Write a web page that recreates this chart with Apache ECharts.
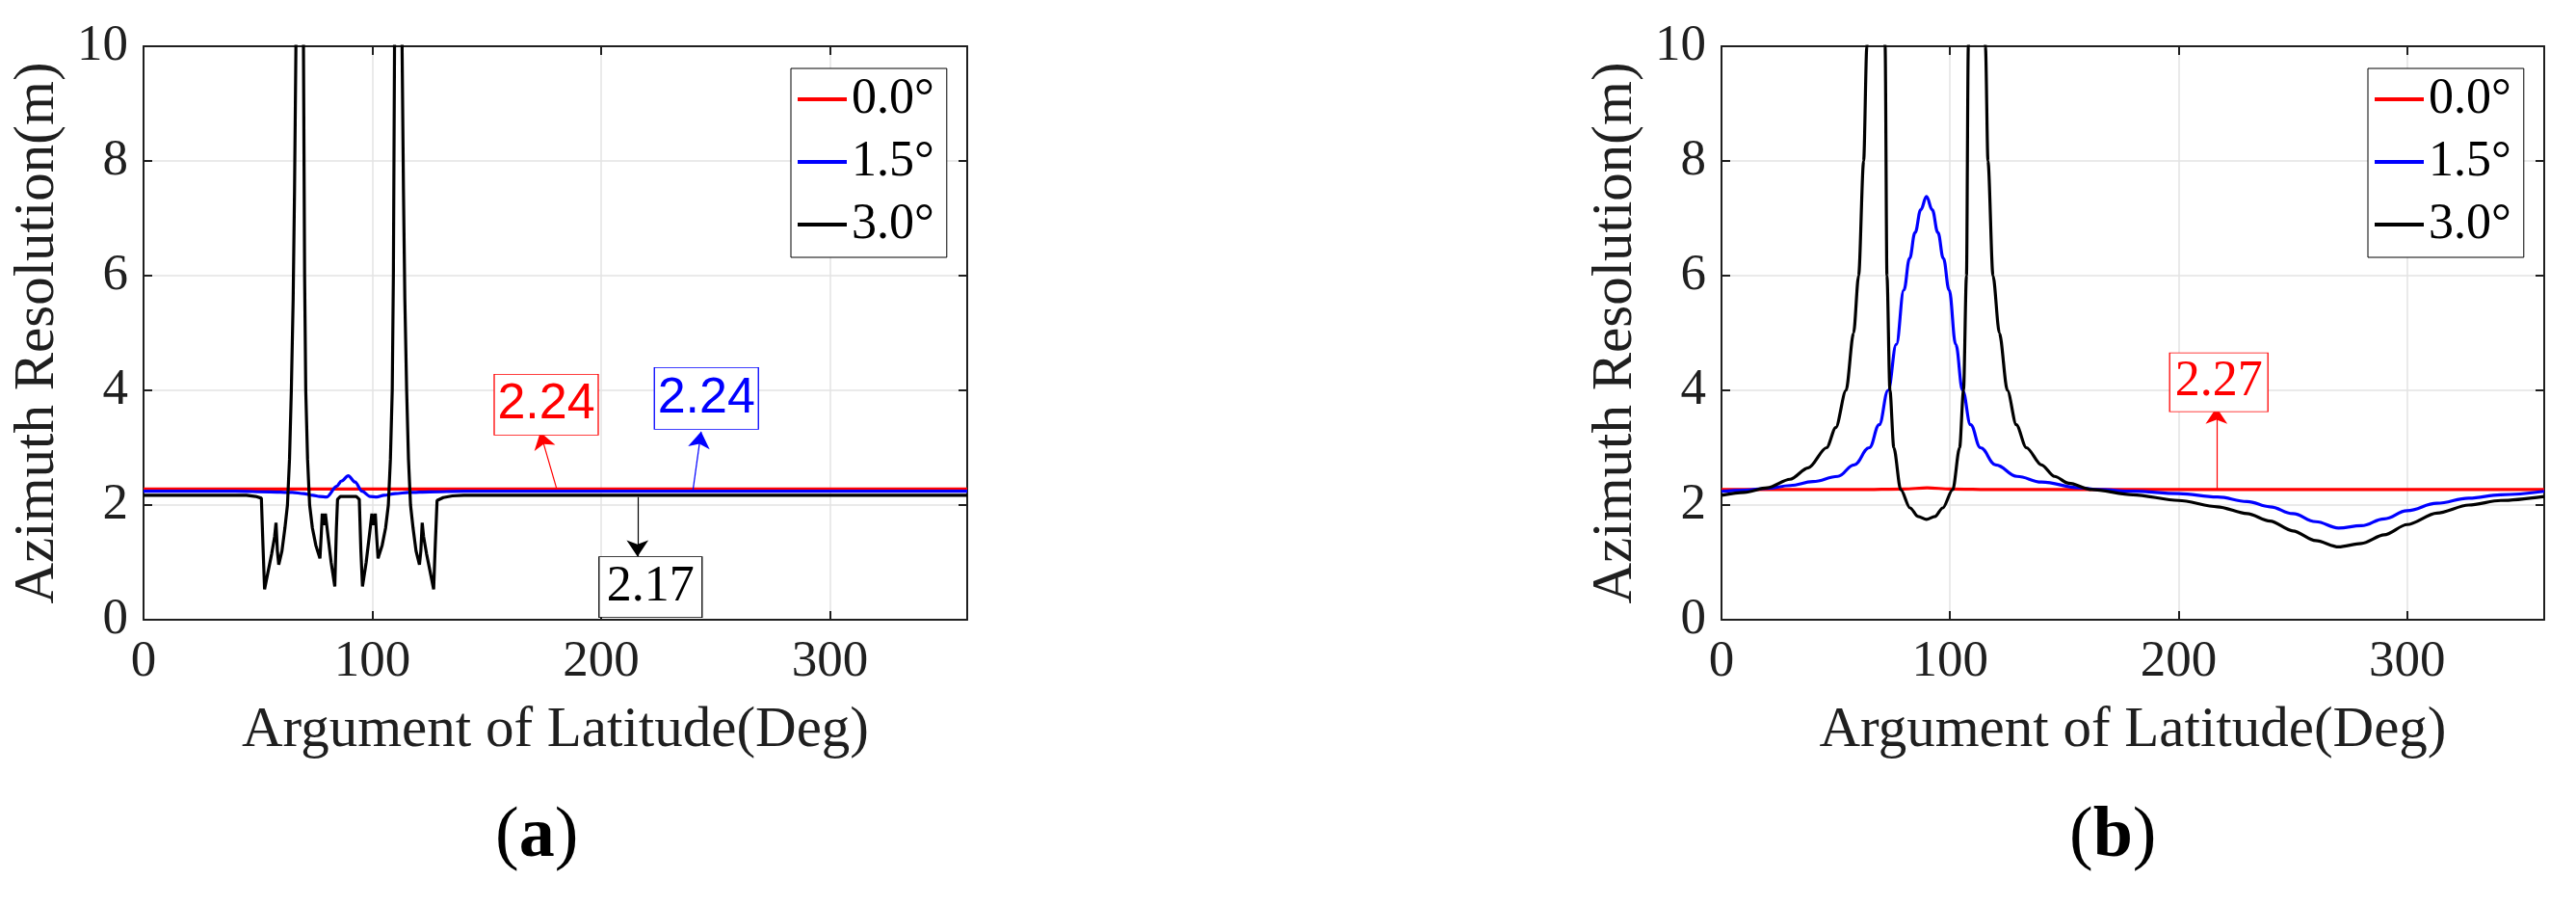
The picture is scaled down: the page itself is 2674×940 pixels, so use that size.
<!DOCTYPE html>
<html>
<head>
<meta charset="utf-8">
<title>Azimuth Resolution</title>
<script src="https://cdn.jsdelivr.net/npm/echarts@6/dist/echarts.min.js"></script>
<style>
  html, body { margin: 0; padding: 0; background: #fff; }
  #main { width: 2674px; height: 940px; }
</style>
</head>
<body>
<div id="main"></div>
<script>
  // ---- data ----
  var names = ['0.0°', '1.5°', '3.0°'];
  var xTicks = [0, 100, 200, 300];

  // (a)
  var aRedX = [0, 90, 180, 270, 360];
  var aRedY = [2.28, 2.28, 2.28, 2.28, 2.28];
  var aBlueX = [0, 40, 55, 65, 70, 74, 77, 80, 84.5, 86.5, 89.5, 92.5, 95.5, 99, 102, 105, 110, 116, 125, 140, 360];
  var aBlueY = [2.24, 2.24, 2.23, 2.22, 2.2, 2.17, 2.15, 2.14, 2.33, 2.42, 2.51, 2.4, 2.24, 2.15, 2.14, 2.17, 2.2, 2.22, 2.23, 2.24, 2.24];
  var aBlackX = [0, 45, 49, 51.5, 52.2, 52.9, 54.5, 56, 57.3, 57.9, 58.5, 59.1, 60.5, 61.8, 62.9, 63.8, 64.6, 65.4, 66, 66.6, 68.2, 69.9, 70.4, 70.9, 71.7, 72.6, 73.8, 75.3, 77.1, 77.7, 78.1, 78.8, 79.5, 80.5, 82, 83.6, 84.3, 84.8, 86, 93, 94.3, 95, 95.7, 97.3, 98.8, 99.8, 100.5, 101.3, 101.8, 102.5, 104.3, 105.8, 107, 107.9, 108.7, 109.2, 109.7, 111.4, 113, 113.6, 114.2, 115, 115.8, 116.7, 117.8, 119.1, 120.6, 121.2, 121.8, 122.4, 123.7, 125.2, 126.8, 127.5, 128.3, 131, 135, 140, 360];
  var aBlackY = [2.17, 2.17, 2.15, 2.12, 1.3, 0.53, 0.85, 1.15, 1.45, 1.69, 1.2, 0.96, 1.2, 1.6, 2.0, 2.8, 4.0, 5.6, 7.5, 10, 40, 10, 6, 4.0, 2.8, 2.0, 1.6, 1.3, 1.07, 1.5, 1.85, 1.65, 1.85, 1.5, 1.0, 0.58, 1.6, 2.1, 2.15, 2.15, 2.1, 1.2, 0.58, 1.0, 1.5, 1.85, 1.65, 1.85, 1.5, 1.07, 1.3, 1.6, 2.0, 2.8, 4.0, 6, 10, 40, 10, 7.5, 5.6, 4.0, 2.8, 2.0, 1.6, 1.2, 0.96, 1.2, 1.69, 1.45, 1.15, 0.85, 0.53, 1.3, 2.08, 2.13, 2.16, 2.17, 2.17];

  // (b)
  var bRedX = [0, 60, 80, 90, 100, 120, 360];
  var bRedY = [2.27, 2.27, 2.28, 2.3, 2.28, 2.27, 2.27];
  var bBlueX = [0, 10, 20, 30, 40, 50.9, 58, 64.7, 69, 72.9, 76.5, 79.8, 82.3, 84.7, 87.2, 89.7, 92.2, 94.7, 97.1, 99.6, 102.5, 105.5, 109, 113.3, 120, 129.3, 140, 156.7, 165, 180, 200, 217, 230, 240, 250, 260, 270, 280, 290, 300, 313, 327, 341, 360];
  var bBlueY = [2.24, 2.26, 2.29, 2.34, 2.41, 2.5, 2.7, 3.0, 3.4, 4.0, 4.8, 5.75, 6.3, 6.75, 7.15, 7.38, 7.15, 6.75, 6.3, 5.75, 4.8, 4.0, 3.4, 3.0, 2.7, 2.5, 2.4, 2.3, 2.27, 2.24, 2.2, 2.14, 2.06, 1.97, 1.85, 1.71, 1.6, 1.64, 1.76, 1.9, 2.03, 2.12, 2.18, 2.24];
  var bBlackX = [0, 10, 20, 30, 38, 46, 50, 54.5, 57.8, 60, 62.2, 63.6, 65.5, 67.5, 69.6, 71.6, 72.4, 73.7, 75.4, 78.4, 82.5, 86, 89.7, 93.4, 96.8, 101.2, 104.2, 105.9, 107.2, 108, 110, 112, 114, 115.5, 116.6, 118.8, 121.6, 125.1, 129, 133.4, 140, 145.7, 152, 162, 180, 200, 217, 230, 240, 250, 260, 270, 280, 290, 300, 313, 327, 341, 360];
  var bBlackY = [2.17, 2.22, 2.3, 2.45, 2.65, 3.0, 3.35, 4.0, 5.0, 6.0, 8.0, 10, 14, 40, 14, 10, 6.0, 4.0, 3.0, 2.27, 1.95, 1.8, 1.75, 1.8, 1.95, 2.27, 3.0, 4.0, 6.0, 10, 14, 40, 14, 10, 8, 6, 5, 4, 3.4, 3.0, 2.7, 2.5, 2.38, 2.27, 2.18, 2.08, 1.97, 1.85, 1.72, 1.55, 1.38, 1.27, 1.33, 1.48, 1.66, 1.86, 2.0, 2.08, 2.15];

  // annotations: [label, box centre x, box centre y, arrow from x, from y, to x, to y]
  var aRedNote = ['2.24', 176, 3.75, 180.6, 2.28, 173.4, 3.27];
  var aBlueNote = ['2.24', 246, 3.86, 240, 2.22, 243.7, 3.28];
  var aBlackNote = ['2.17', 221.6, 0.57, 215.9, 2.14, 215.9, 1.1];
  var bRedNote = ['2.27', 217.6, 4.14, 216.6, 2.27, 216.6, 3.7];

  // ---- helpers ----
  var serif = 'Liberation Serif';
  var sans = 'Liberation Sans';
  var ink = '#1f1f1f';

  function zip(xs, ys) {
    return xs.map(function (x, i) { return [x, ys[i]]; });
  }

  function xAxes(g) {
    return [{
      gridIndex: g, type: 'value', min: 0, max: 360, interval: 100, position: 'bottom',
      name: 'Argument of Latitude(Deg)', nameLocation: 'middle', nameGap: 86,
      nameTextStyle: { fontFamily: serif, fontSize: 59, color: ink },
      axisLine: { show: true, onZero: false, lineStyle: { color: ink, width: 2 } },
      axisTick: { show: true, inside: true, length: 9, lineStyle: { color: ink, width: 2 } },
      axisLabel: {
        fontFamily: serif, fontSize: 53, color: ink, margin: 18, showMaxLabel: false,
        formatter: function (v) { return xTicks.indexOf(v) >= 0 ? String(v) : ''; }
      },
      splitLine: { show: true, lineStyle: { color: '#e3e3e3', width: 1.5 } }
    }, {
      gridIndex: g, type: 'value', min: 0, max: 360, interval: 100, position: 'top',
      axisLine: { show: true, onZero: false, lineStyle: { color: ink, width: 2 } },
      axisTick: { show: true, inside: true, length: 9, lineStyle: { color: ink, width: 2 } },
      axisLabel: { show: false },
      splitLine: { show: false }
    }];
  }

  function yAxes(g) {
    return [{
      gridIndex: g, type: 'value', min: 0, max: 10, interval: 2, position: 'left',
      name: 'Azimuth Resolution(m)', nameLocation: 'middle', nameGap: 80,
      nameTextStyle: { fontFamily: serif, fontSize: 59, color: ink },
      axisLine: { show: true, onZero: false, lineStyle: { color: ink, width: 2 } },
      axisTick: { show: true, inside: true, length: 9, lineStyle: { color: ink, width: 2 } },
      axisLabel: { fontFamily: serif, fontSize: 53, color: ink, margin: 16 },
      splitLine: { show: true, lineStyle: { color: '#e3e3e3', width: 1.5 } }
    }, {
      gridIndex: g, type: 'value', min: 0, max: 10, interval: 2, position: 'right',
      axisLine: { show: true, onZero: false, lineStyle: { color: ink, width: 2 } },
      axisTick: { show: true, inside: true, length: 9, lineStyle: { color: ink, width: 2 } },
      axisLabel: { show: false },
      splitLine: { show: false }
    }];
  }

  function note(n, color, font, w, h) {
    return {
      markPoint: {
        silent: true,
        symbol: 'rect',
        symbolSize: [w, h],
        itemStyle: { color: '#fff', borderColor: color, borderWidth: 1 },
        label: {
          show: true, position: 'inside', color: color, fontFamily: font, fontSize: 52,
          formatter: function (p) { return p.name; }
        },
        data: [{ name: n[0], coord: [n[1], n[2]] }]
      },
      markLine: {
        silent: true,
        symbol: ['none', 'arrow'],
        symbolSize: 17,
        label: { show: false },
        lineStyle: { color: color, width: 1.2, type: 'solid' },
        data: [[{ coord: [n[3], n[4]] }, { coord: [n[5], n[6]] }]]
      }
    };
  }

  function line(name, data, color, xi, smooth, extra) {
    var s = {
      name: name, type: 'line', xAxisIndex: xi, yAxisIndex: xi,
      data: data, showSymbol: false, smooth: smooth, smoothMonotone: 'x',
      clip: true, color: color,
      lineStyle: { color: color, width: 3.2 }
    };
    if (extra) { s.markPoint = extra.markPoint; s.markLine = extra.markLine; }
    return s;
  }

  function legend(left) {
    return {
      data: names, orient: 'vertical', left: left, top: 71,
      backgroundColor: '#fff', borderColor: '#000', borderWidth: 1,
      padding: [4, 13, 6, 7], itemGap: 9, itemWidth: 51, itemHeight: 4,
      icon: 'rect', selectedMode: false,
      textStyle: { fontFamily: serif, fontSize: 52, color: '#000', lineHeight: 56 }
    };
  }

  var myChart = echarts.init(document.getElementById('main'));
  myChart.setOption({
    animation: false,
    backgroundColor: '#fff',
    textStyle: { fontFamily: serif },
    grid: [
      { left: 149, top: 48, width: 855, height: 595 },
      { left: 1787, top: 48, width: 854, height: 595 }
    ],
    xAxis: xAxes(0).concat(xAxes(1)),
    yAxis: yAxes(0).concat(yAxes(1)),
    legend: [legend(821), legend(2458)],
    graphic: [{
      type: 'text', left: 514, top: 832,
      style: {
        text: '{p|(}{b|a}{p|)}',
        rich: {
          p: { fontFamily: serif, fontSize: 74, fill: '#000' },
          b: { fontFamily: serif, fontSize: 74, fontWeight: 'bold', fill: '#000' }
        }
      }
    }, {
      type: 'text', left: 2148, top: 832,
      style: {
        text: '{p|(}{b|b}{p|)}',
        rich: {
          p: { fontFamily: serif, fontSize: 74, fill: '#000' },
          b: { fontFamily: serif, fontSize: 74, fontWeight: 'bold', fill: '#000' }
        }
      }
    }],
    series: [
      line(names[0], zip(aRedX, aRedY), '#ff0000', 0, false, note(aRedNote, '#ff0000', sans, 108, 63)),
      line(names[1], zip(aBlueX, aBlueY), '#0000ff', 0, 0.3, note(aBlueNote, '#0000ff', sans, 108, 64)),
      line(names[2], zip(aBlackX, aBlackY), '#000000', 0, false, note(aBlackNote, '#000000', serif, 107, 63)),
      line(names[0], zip(bRedX, bRedY), '#ff0000', 2, 0.3, note(bRedNote, '#ff0000', serif, 102, 61)),
      line(names[1], zip(bBlueX, bBlueY), '#0000ff', 2, 0.4),
      line(names[2], zip(bBlackX, bBlackY), '#000000', 2, 0.3)
    ]
  });
</script>
</body>
</html>
